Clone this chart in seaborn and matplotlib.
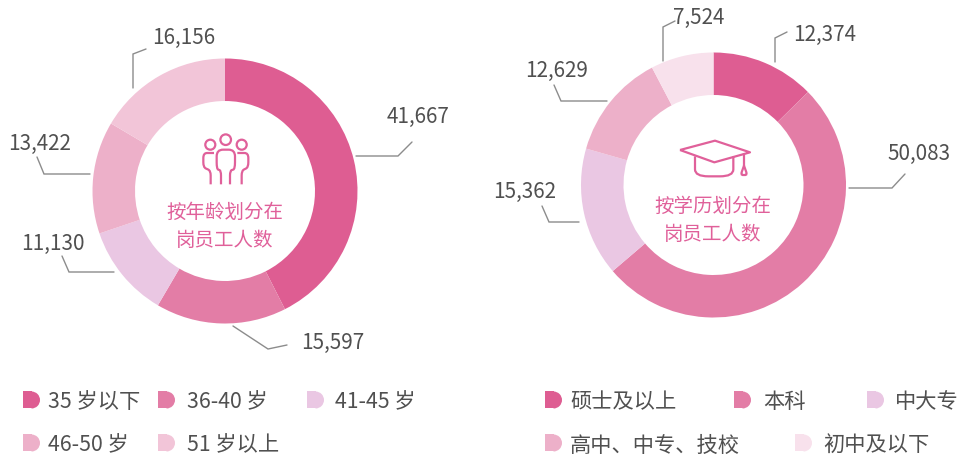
import matplotlib
matplotlib.use("Agg")
import matplotlib.pyplot as plt
import seaborn as sns
from matplotlib.patches import Wedge, Rectangle, Circle, PathPatch
from matplotlib.path import Path

age_labels = ["35 岁以下", "36-40 岁", "41-45 岁", "46-50 岁", "51 岁以上"]
age_values = [41667, 15597, 11130, 13422, 16156]
edu_labels = ["硕士及以上", "本科", "中大专", "高中、中专、技校", "初中及以下"]
edu_values = [12374, 50083, 15362, 12629, 7524]
age_colors = ["#DE5D92", "#E37DA6", "#EAC7E3", "#EDB0C9", "#F2C5D8"]
edu_colors = ["#DE5D92", "#E37DA6", "#EAC7E3", "#EDB0C9", "#F8E1EC"]
age_title = ["按年龄划分在", "岗员工人数"]
edu_title = ["按学历划分在", "岗员工人数"]

sns.set_theme(style="white")
plt.rcParams["font.family"] = ["Noto Sans CJK SC", "DejaVu Sans"]

TEXT = "#505050"
LINE = "#8C8C8C"
PINK = "#E0609A"

fig = plt.figure(figsize=(9.61, 4.56), dpi=100)
ax = fig.add_axes([0, 0, 1, 1])


def donut(values, colors, cx, cy, r):
    ax.pie(values, colors=sns.color_palette(colors), center=(cx, cy), radius=r,
           startangle=-90, counterclock=True,
           wedgeprops=dict(width=r - 90, linewidth=0))


donut(age_values, age_colors, 225, 192, 132.5)
donut(edu_values, edu_colors, 713.5, 186, 132.5)
ax.set_xlim(0, 961)
ax.set_ylim(456, 0)
ax.set_aspect("equal")
ax.axis("off")

age_leaders = [
    ([(356, 157), (398, 157), (412, 143)], (418, 117)),
    ([(233, 327), (268, 350), (287, 346)], (333, 343)),
    ([(114, 273), (69, 273), (62, 257)], (53, 244)),
    ([(90, 175), (44, 175), (37, 158)], (40, 144)),
    ([(133, 89), (133, 55), (146, 50)], (184, 38)),
]
edu_leaders = [
    ([(775, 63), (775, 39), (787, 33)], (825, 35)),
    ([(849, 189), (892, 189), (905, 175)], (919, 154)),
    ([(579, 223), (549, 223), (542, 207)], (525, 192)),
    ([(607, 102), (561, 102), (554, 86)], (557, 71)),
    ([(663, 62), (663, 28), (675, 22)], (699, 18)),
]
for values, leaders in ((age_values, age_leaders), (edu_values, edu_leaders)):
    for v, (pts, pos) in zip(values, leaders):
        ax.plot(*zip(*pts), color=LINE, lw=1, solid_joinstyle="miter")
        ax.text(*pos, f"{v:,}", color=TEXT, fontsize=14.9, ha="center", va="center")

for (cx, ys, lines) in ((225, (212, 241), age_title), (713, (206, 235), edu_title)):
    for y, s in zip(ys, lines):
        ax.text(cx, y, s, color=PINK, fontsize=14, fontweight="medium", ha="center", va="center")


def z(pts, ox, oy):
    return [(ox + a / 3, oy + b / 3) for a, b in pts]


def poly(pts, lw=1.6):
    ax.plot(*zip(*pts), color=PINK, lw=lw, solid_joinstyle="round", solid_capstyle="butt")


def rounded(pts, ox, oy, lw=1.6):
    """Polyline whose inner vertices are softened with quadratic curves."""
    pts = z(pts, ox, oy)
    verts, codes = [pts[0]], [Path.MOVETO]
    for i in range(1, len(pts) - 1):
        p0, p1, p2 = pts[i - 1], pts[i], pts[i + 1]
        a = (p1[0] + (p0[0] - p1[0]) * .35, p1[1] + (p0[1] - p1[1]) * .35)
        b = (p1[0] + (p2[0] - p1[0]) * .35, p1[1] + (p2[1] - p1[1]) * .35)
        verts += [a, p1, b]
        codes += [Path.LINETO, Path.CURVE3, Path.CURVE3]
    verts.append(pts[-1])
    codes.append(Path.LINETO)
    ax.add_patch(PathPatch(Path(verts, codes), fill=False, edgecolor=PINK, lw=lw))


# people icon
for c, r in (((225.7, 140.7), 5.3), ((210.3, 145.7), 5), ((241.7, 145.7), 5)):
    ax.add_patch(Circle(c, r, fill=False, edgecolor=PINK, lw=1.6))
rounded([(243, 196), (243, 155), (230, 150), (230, 92), (285, 92), (285, 150), (270, 155), (270, 196)], 140, 120)
rounded([(212, 196), (212, 155), (190, 145), (190, 102), (222, 102)], 140, 120)
rounded([(305, 196), (305, 155), (325, 145), (325, 102), (292, 102)], 140, 120)

# graduation cap icon
poly(z([(150, 93), (255, 65), (360, 100), (253, 130), (150, 93)], 630, 120))
rounded([(195, 112), (195, 172), (310, 172), (310, 112)], 630, 120)
poly(z([(342, 102), (342, 142)], 630, 120))
rounded([(342, 140), (332, 168), (352, 168), (342, 140)], 630, 120)


def key(x, y, color):
    ax.add_patch(Rectangle((x, y - 8.5), 8.8, 17, facecolor=color, linewidth=0))
    ax.add_patch(Wedge((x + 8.5, y), 8.5, -90, 90, facecolor=color, linewidth=0))


age_pos = [(23, 48, 401), (158, 187, 401), (307, 335, 401), (23, 48, 444), (158, 187, 444)]
edu_pos = [(545, 570, 401), (734, 763, 401), (867, 895, 401), (545, 570, 444), (795, 823, 444)]
for labels, colors, pos in ((age_labels, age_colors, age_pos), (edu_labels, edu_colors, edu_pos)):
    for s, c, (mx, tx, y) in zip(labels, colors, pos):
        key(mx, y, c)
        ax.text(tx, y + 1.5, s, color=TEXT, fontsize=15.3, ha="left", va="center")

fig.savefig("out.png", dpi=100, facecolor="white")
